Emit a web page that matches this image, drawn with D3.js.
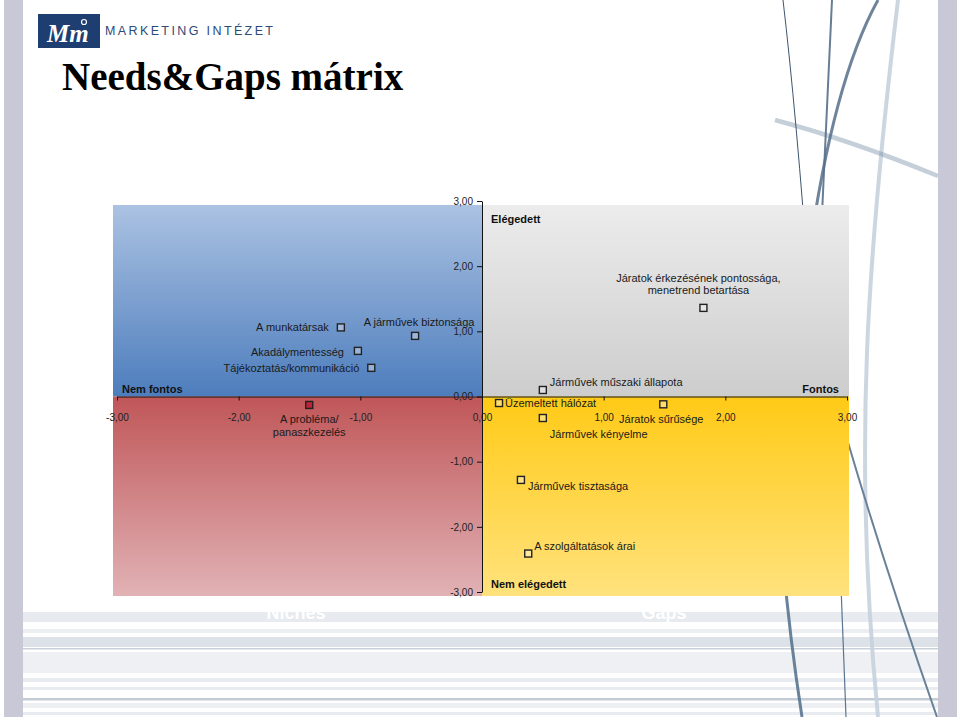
<!DOCTYPE html>
<html>
<head>
<meta charset="utf-8">
<script src="https://cdn.jsdelivr.net/npm/d3@7"></script>
<style>
  body { margin: 0; background: #fff; }
  svg { display: block; }
</style>
</head>
<body>
<div id="chart"></div>
<script>
// attributes: x = importance (Nem fontos -> Fontos), y = satisfaction (Nem elégedett -> Elégedett)
const items = [
  "A munkatársak",
  "A járművek biztonsága",
  "Akadálymentesség",
  "Tájékoztatás/kommunikáció",
  "A probléma/\npanaszkezelés",
  "Járatok érkezésének pontossága,\nmenetrend betartása",
  "Járművek műszaki állapota",
  "Üzemeltett hálózat",
  "Járatok sűrűsége",
  "Járművek kényelme",
  "Járművek tisztasága",
  "A szolgáltatások árai"
];
const importance = [-1.16, -0.55, -1.02, -0.91, -1.42, 1.82, 0.50, 0.14, 1.49, 0.50, 0.32, 0.38];
const satisfaction = [1.06, 0.93, 0.70, 0.44, -0.13, 1.36, 0.10, -0.10, -0.12, -0.33, -1.28, -2.41];
const highlighted = ["A probléma/\npanaszkezelés"];
const xTicks = [-3, -2, -1, 0, 1, 2, 3];
const yTicks = [-3, -2, -1, 0, 1, 2, 3];

// label placement next to each marker: [anchor, dx, dy]
const labelPlace = [
  ["end", -12, 0], ["middle", 4, -14], ["end", -14, 1], ["end", -12, 0],
  ["middle", 0, 14], ["middle", -5, -30], ["start", 7, -8], ["start", 6, 0],
  ["middle", -2, 15], ["start", 7, 16], ["start", 7, 6], ["start", 6, -7]
];

const width = 960, height = 717;
const sans = 'Arial, "Liberation Sans", sans-serif';
const svg = d3.select('#chart').append('svg')
  .attr('width', width).attr('height', height)
  .attr('font-family', sans);

const x = d3.scaleLinear().domain([-3, 3]).range([117, 847]);
const y = d3.scaleLinear().domain([-3, 3]).range([592, 201]);
const fmt = d3.formatLocale({ decimal: ",", thousands: " ", grouping: [3], currency: ["", ""], minus: "-" }).format(".2f");

drawFrame(svg);
drawQuadrants(svg);
drawAxes(svg);
drawPoints(svg);
drawHeader(svg);

function drawFrame(svg) {
  // light stripes at the bottom of the slide
  const stripes = [[612, 10, '#e7eaef'], [629, 4, '#eceef2'], [637, 10, '#dde2e8'], [648, 1.5, '#c9d1da'],
    [652, 21, '#eef0f4'], [678, 4, '#e8ebf0'], [687, 3, '#e8ebf0'], [698, 2.5, '#c3cbd5'],
    [703, 5, '#edeff3'], [712, 3, '#e8ebf0']];
  svg.selectAll('rect.stripe').data(stripes).enter().append('rect')
    .attr('class', 'stripe')
    .attr('x', 23).attr('width', 915)
    .attr('y', d => d[0]).attr('height', d => d[1])
    .attr('fill', d => d[2]);

  svg.append('text').attr('x', 296).attr('y', 619).attr('text-anchor', 'middle')
    .attr('font-size', 18).attr('font-weight', 'bold').attr('fill', '#fff').text('Niches');
  svg.append('text').attr('x', 664).attr('y', 619).attr('text-anchor', 'middle')
    .attr('font-size', 18).attr('font-weight', 'bold').attr('fill', '#fff').text('Gaps');

  // decorative strokes on the right
  const curves = [
    ['M898,0 C868,250 852,450 878,717', '#c6d2de', 4, 0.9],
    ['M775,120 Q850,140 938,176', '#7f95ab', 4.5, 0.45],
    ['M783,0 Q796,110 810,300', '#3e556e', 1, 1],
    ['M832,0 L818,300', '#566f8a', 2, 0.9],
    ['M878,0 Q828,90 803,300', '#566f8a', 3, 0.85],
    ['M830,380 Q875,540 937,717', '#6a8298', 2, 1],
    ['M783,560 Q790,640 802,717', '#5a7590', 3, 0.9],
    ['M840,560 L846,717', '#5a7590', 1.2, 1]
  ];
  svg.selectAll('path.deco').data(curves).enter().append('path')
    .attr('class', 'deco')
    .attr('d', d => d[0])
    .attr('fill', 'none')
    .attr('stroke', d => d[1])
    .attr('stroke-width', d => d[2])
    .attr('stroke-opacity', d => d[3]);

  // side bands
  svg.append('rect').attr('x', 4).attr('y', 0).attr('width', 19).attr('height', height).attr('fill', '#c8c8d7');
  svg.append('rect').attr('x', 938).attr('y', 0).attr('width', 19).attr('height', height).attr('fill', '#c8c8d7');
}

function drawQuadrants(svg) {
  const defs = svg.append('defs');
  const grads = [
    ['gBlue', '#abc2e2', '#4d7dbd'],
    ['gGray', '#ececec', '#cdcdcd'],
    ['gRed', '#c05658', '#e1b2b5'],
    ['gYellow', '#ffca16', '#ffe27d']
  ];
  grads.forEach(g => {
    const lg = defs.append('linearGradient').attr('id', g[0])
      .attr('x1', 0).attr('y1', 0).attr('x2', 0).attr('y2', 1);
    lg.append('stop').attr('offset', '0%').attr('stop-color', g[1]);
    lg.append('stop').attr('offset', '100%').attr('stop-color', g[2]);
  });

  const left = x(-3) - 4, right = x(3) + 2, top = y(3) + 4, bottom = y(-3) + 4;
  const quads = [
    [left, top, x(0), y(0), 'gBlue'],
    [x(0), top, right, y(0), 'gGray'],
    [left, y(0), x(0), bottom, 'gRed'],
    [x(0), y(0), right, bottom, 'gYellow']
  ];
  svg.selectAll('rect.quad').data(quads).enter().append('rect')
    .attr('class', 'quad')
    .attr('x', d => d[0]).attr('y', d => d[1])
    .attr('width', d => d[2] - d[0]).attr('height', d => d[3] - d[1])
    .attr('fill', d => `url(#${d[4]})`);
}

function drawAxes(svg) {
  const gx = svg.append('g').attr('transform', `translate(0,${y(0)})`)
    .call(d3.axisBottom(x).tickValues(xTicks).tickFormat(fmt).tickSize(4).tickSizeOuter(0).tickPadding(13));
  const gy = svg.append('g').attr('transform', `translate(${x(0)},0)`)
    .call(d3.axisLeft(y).tickValues(yTicks).tickFormat(fmt).tickSize(5).tickSizeOuter(0).tickPadding(4));
  [gx, gy].forEach(g => {
    g.attr('font-family', sans).attr('font-size', 10);
    g.selectAll('text').attr('fill', '#222');
    g.selectAll('path, line').attr('stroke', '#111');
  });

  const titles = [
    ['Elégedett', x(0) + 9, 223, 'start'],
    ['Nem elégedett', x(0) + 9, 588, 'start'],
    ['Nem fontos', x(-3) + 5, 393, 'start'],
    ['Fontos', x(3) - 8, 393, 'end']
  ];
  svg.selectAll('text.title').data(titles).enter().append('text')
    .attr('class', 'title')
    .attr('x', d => d[1]).attr('y', d => d[2])
    .attr('text-anchor', d => d[3])
    .attr('font-size', 11).attr('font-weight', 'bold').attr('fill', '#111')
    .text(d => d[0]);
}

function drawPoints(svg) {
  const pts = items.map((name, i) => ({ name: name, x: importance[i], y: satisfaction[i], place: labelPlace[i] }));
  const s = 7;

  svg.selectAll('rect.marker').data(pts).enter().append('rect')
    .attr('class', 'marker')
    .attr('x', d => x(d.x) - s / 2).attr('y', d => y(d.y) - s / 2)
    .attr('width', s).attr('height', s)
    .attr('fill', d => highlighted.includes(d.name) ? '#c02038' : 'rgba(255,255,255,0.35)')
    .attr('stroke', '#222').attr('stroke-width', 1.4);

  const labels = svg.selectAll('text.label').data(pts).enter().append('text')
    .attr('class', 'label')
    .attr('text-anchor', d => d.place[0])
    .attr('font-size', 11).attr('fill', '#1a1a1a');

  labels.each(function (d) {
    const lines = d.name.split('\n');
    const lh = lines.length > 1 && d.place[2] < 0 ? 12 : 13;
    lines.forEach((line, k) => {
      d3.select(this).append('tspan')
        .attr('x', x(d.x) + d.place[1])
        .attr('y', y(d.y) + d.place[2] + k * lh)
        .attr('dy', '0.35em')
        .text(line);
    });
  });
}

function drawHeader(svg) {
  // logo
  svg.append('rect').attr('x', 38).attr('y', 14).attr('width', 62).attr('height', 34).attr('fill', '#1e3d70');
  svg.append('text').attr('x', 47).attr('y', 42)
    .attr('font-family', '"Liberation Serif", serif').attr('font-style', 'italic').attr('font-weight', 'bold')
    .attr('font-size', 25).attr('fill', '#fff').text('Mm');
  svg.append('circle').attr('cx', 84).attr('cy', 22).attr('r', 2.5)
    .attr('fill', 'none').attr('stroke', '#fff').attr('stroke-width', 1.2);

  svg.append('text').attr('x', 105).attr('y', 35)
    .attr('font-size', 12.5).attr('fill', '#2d4a78')
    .attr('textLength', 168).attr('lengthAdjust', 'spacing')
    .text('MARKETING INTÉZET');

  svg.append('text').attr('x', 62).attr('y', 90)
    .attr('font-family', '"Liberation Serif", "Times New Roman", serif')
    .attr('font-weight', 'bold').attr('font-size', 39).attr('fill', '#000')
    .text('Needs&Gaps mátrix');
}
</script>
</body>
</html>
